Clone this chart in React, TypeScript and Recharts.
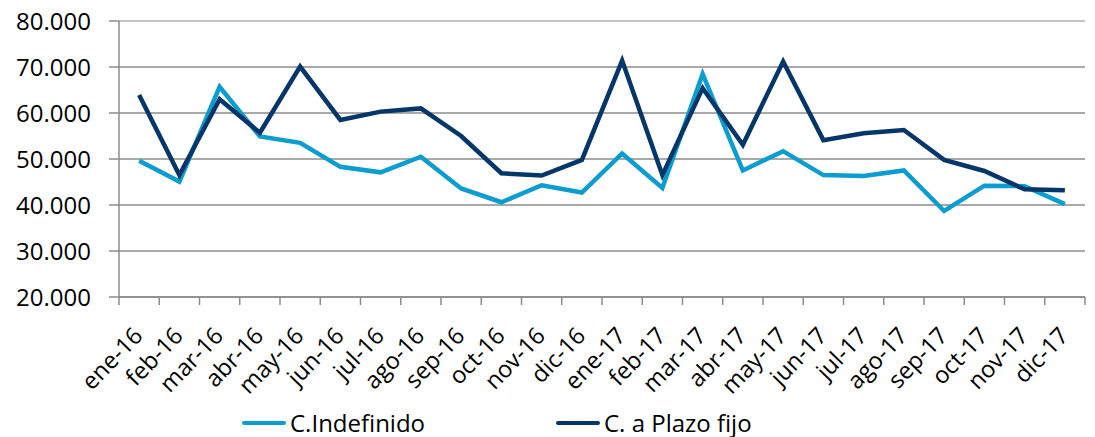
import React from 'react';
import {
  LineChart,
  Line,
  XAxis,
  YAxis,
  CartesianGrid,
  ReferenceLine,
} from 'recharts';

const months = [
  'ene-16', 'feb-16', 'mar-16', 'abr-16', 'may-16', 'jun-16',
  'jul-16', 'ago-16', 'sep-16', 'oct-16', 'nov-16', 'dic-16',
  'ene-17', 'feb-17', 'mar-17', 'abr-17', 'may-17', 'jun-17',
  'jul-17', 'ago-17', 'sep-17', 'oct-17', 'nov-17', 'dic-17',
];

const indefinido = [
  49600, 45100, 65700, 54900, 53500, 48300, 47100, 50500, 43600, 40600, 44300, 42700,
  51200, 43700, 68500, 47500, 51700, 46500, 46300, 47500, 38700, 44200, 44100, 40200,
];

const plazoFijo = [
  63900, 46500, 63000, 55700, 70100, 58500, 60300, 61000, 55000, 46900, 46400, 49800,
  71400, 46500, 65400, 53100, 71200, 54100, 55600, 56300, 49800, 47400, 43400, 43200,
];

const yTicks = [20000, 30000, 40000, 50000, 60000, 70000, 80000];

const data = months.map((m, i) => ({
  month: m,
  'C.Indefinido': indefinido[i],
  'C. a Plazo fijo': plazoFijo[i],
}));

const W = 1095;
const H = 437;
const Y_AXIS_W = 119;
const RIGHT = 10;
const HALF = (W - Y_AXIS_W - RIGHT) / months.length / 2;

const LIGHT = '#0b9dcf';
const DARK = '#04366a';
const GRID = '#8c8c8c';
const FONT = '"Open Sans", sans-serif';

const fmt = (v: number) => String(v).replace(/(\d)(?=(\d{3})+$)/g, '$1.');

function XTick(props: any) {
  const { x, y, payload, index } = props;
  const last = index === months.length - 1;
  return (
    <g>
      <line x1={x - HALF} y1={y} x2={x - HALF} y2={y + 8} stroke={GRID} strokeWidth={1.5} />
      {last && <line x1={x + HALF} y1={y} x2={x + HALF} y2={y + 8} stroke={GRID} strokeWidth={1.5} />}
      <text
        transform={`translate(${x + 5},${y + 40}) rotate(-46)`}
        textAnchor="end"
        fill="#000"
        fontSize={23.5}
        fontFamily={FONT}
      >
        {payload.value}
      </text>
    </g>
  );
}

function LegendRow() {
  const item = (color: string, label: string, left: number) => (
    <div style={{ position: 'absolute', left, top: 0, display: 'flex', alignItems: 'center', height: 30 }}>
      <div style={{ width: 44, height: 4.5, background: color, borderRadius: 2, marginRight: 4 }} />
      <span style={{ fontFamily: FONT, fontSize: 24, color: '#000', lineHeight: '30px' }}>{label}</span>
    </div>
  );
  return (
    <div style={{ position: 'absolute', left: 0, top: 408, width: W, height: 30 }}>
      {item(LIGHT, 'C.Indefinido', 242)}
      {item(DARK, 'C. a Plazo fijo', 556)}
    </div>
  );
}

export default function App() {
  return (
    <div style={{ position: 'absolute', left: 0, top: 0, width: W, height: H, background: '#fff' }}>
      <LineChart
        width={W}
        height={H}
        data={data}
        margin={{ top: 21, right: RIGHT, left: 0, bottom: 0 }}
      >
        <CartesianGrid horizontal vertical={false} stroke={GRID} strokeWidth={1.5} />
        <ReferenceLine y={80000} stroke="#c4c4c4" strokeWidth={2} />
        <XAxis
          dataKey="month"
          interval={0}
          height={H - 21 - 276}
          padding={{ left: HALF, right: HALF }}
          tickLine={false}
          tickSize={0}
          tickMargin={0}
          axisLine={{ stroke: GRID, strokeWidth: 1.5 }}
          tick={<XTick />}
        />
        <YAxis
          width={Y_AXIS_W}
          domain={[20000, 80000]}
          ticks={yTicks}
          interval={0}
          tickFormatter={fmt}
          tickSize={10}
          tickMargin={18}
          axisLine={{ stroke: GRID, strokeWidth: 1.5 }}
          tickLine={{ stroke: GRID, strokeWidth: 1.5 }}
          tick={{ fill: '#000', fontSize: 24, fontFamily: FONT }}
        />
        <Line
          type="linear"
          dataKey="C.Indefinido"
          stroke={LIGHT}
          strokeWidth={4.5}
          dot={false}
          isAnimationActive={false}
        />
        <Line
          type="linear"
          dataKey="C. a Plazo fijo"
          stroke={DARK}
          strokeWidth={4.5}
          dot={false}
          isAnimationActive={false}
        />
      </LineChart>
      <LegendRow />
    </div>
  );
}
